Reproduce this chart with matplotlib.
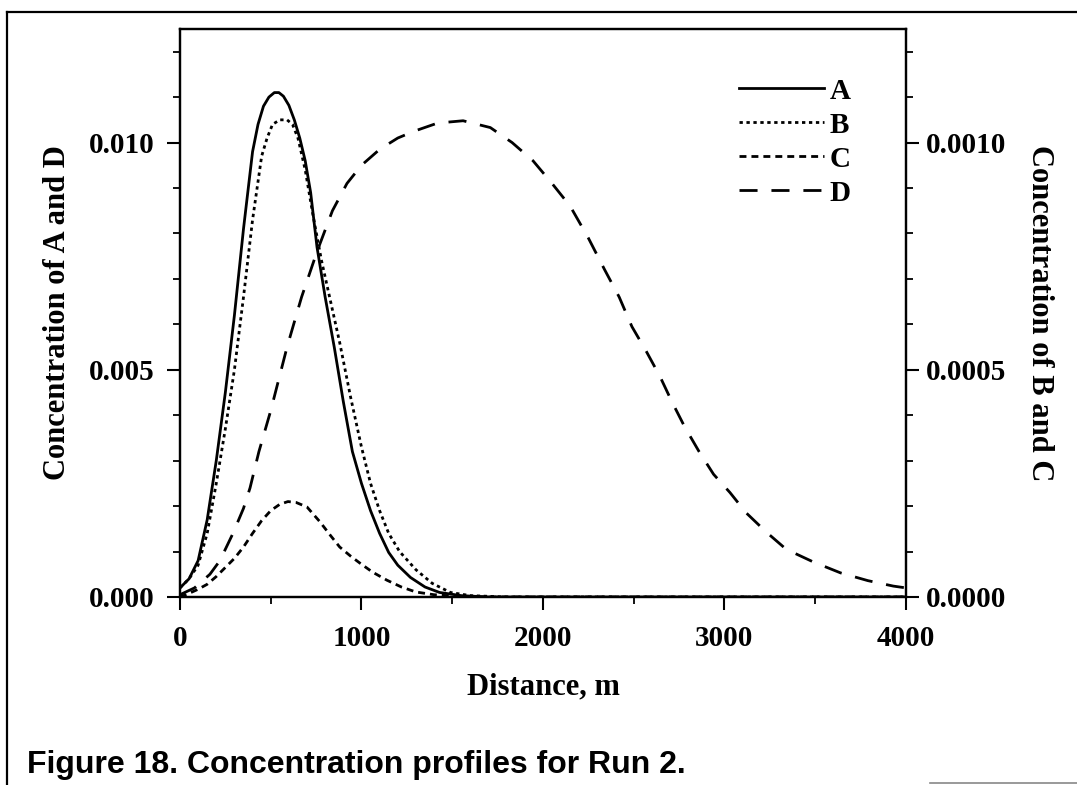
import matplotlib
matplotlib.use("Agg")
import matplotlib.pyplot as plt
from matplotlib.lines import Line2D
from matplotlib.ticker import MultipleLocator

plt.rcParams['font.family'] = ['Liberation Serif', 'DejaVu Serif']
plt.rcParams['font.weight'] = 'bold'

# distance (m) and concentrations
xA = [0, 50, 100, 150, 200, 250, 300, 350, 400, 430, 460, 490, 520, 545, 570, 600,
      630, 660, 690, 720, 755, 800, 850, 900, 950, 1000, 1050, 1100, 1150, 1200, 1270,
      1350, 1430, 1550, 1700, 4000]
cA = [0.0002, 0.0004, 0.0008, 0.0017, 0.0030, 0.0045, 0.0062, 0.0081, 0.0098, 0.0104,
      0.0108, 0.0110, 0.0111, 0.0111, 0.01102, 0.01082, 0.0105, 0.0101, 0.0096, 0.0089,
      0.0077, 0.0066, 0.0055, 0.0043, 0.0032, 0.0025, 0.0019, 0.0014, 0.00098, 0.0007,
      0.00043, 0.00022, 0.0001, 0.00003, 0.0, 0.0]

xB = [0, 50, 100, 150, 200, 250, 300, 350, 400, 450, 480, 510, 550, 590, 620, 650,
      690, 733, 780, 830, 880, 940, 1000, 1050, 1100, 1150, 1210, 1300, 1390, 1490,
      1600, 1800, 4000]
cB = [0.00002, 0.00004, 0.00007, 0.00014, 0.00025, 0.00037, 0.0005, 0.00066, 0.00083,
      0.00097, 0.00101, 0.00104, 0.00105, 0.00105, 0.00104, 0.00101, 0.00094, 0.00084,
      0.00074, 0.00065, 0.00056, 0.00044, 0.00033, 0.00025, 0.00019, 0.00014, 0.0001,
      0.00006, 0.00003, 0.00001, 0.000003, 0.0, 0.0]

xC = [0, 50, 100, 150, 200, 250, 300, 350, 400, 450, 500, 550, 595, 640, 700, 770,
      830, 880, 940, 990, 1060, 1140, 1220, 1300, 1400, 1550, 1700, 4000]
cC = [0.0, 0.000008, 0.000017, 0.000028, 0.000045, 0.000065, 0.000085, 0.00011, 0.00014,
      0.000168, 0.00019, 0.000204, 0.00021, 0.000208, 0.000198, 0.000166, 0.000135,
      0.00011, 0.00009, 0.000075, 0.000055, 0.000037, 0.000022, 0.000011, 0.000005,
      0.000001, 0.0, 0.0]

xD = [0, 80, 165, 220, 292, 350, 386, 435, 500, 590, 670, 755, 840, 920, 1000, 1100,
      1200, 1290, 1420, 1560, 1710, 1830, 1945, 2050, 2150, 2250, 2340, 2420, 2490,
      2570, 2645, 2710, 2780, 2860, 2940, 3030, 3120, 3230, 3340, 3490, 3640, 3790, 3930, 4000]
cD = [0.00005, 0.0002, 0.0005, 0.0008, 0.0014, 0.00195, 0.0024, 0.0032, 0.0041, 0.0055,
      0.0066, 0.0076, 0.0085, 0.0091, 0.0095, 0.00985, 0.0101, 0.01025, 0.01043, 0.01048,
      0.01033, 0.0100, 0.0096, 0.0091, 0.0086, 0.0079, 0.0072, 0.0066, 0.00595, 0.0054,
      0.00485, 0.0043, 0.00375, 0.0032, 0.0027, 0.0023, 0.00185, 0.00143, 0.00105,
      0.00077, 0.00053, 0.00036, 0.00024, 0.0002]

fig = plt.figure(figsize=(10.77, 7.85), dpi=100)
ax = fig.add_axes([0.1671, 0.2395, 0.8412 - 0.1671, 0.9631 - 0.2395])
ax2 = ax.twinx()

lw = 2.0
styles = {'A': '-', 'B': (0, (1.2, 1.3)), 'C': (0, (2.5, 1.8)), 'D': (0, (6.5, 5))}
ax.plot(xA, cA, color='black', lw=lw, ls=styles['A'])
ax.plot(xD, cD, color='black', lw=lw, ls=styles['D'])
ax2.plot(xB, cB, color='black', lw=lw, ls=styles['B'])
ax2.plot(xC, cC, color='black', lw=lw, ls=styles['C'])

ax.set_xlim(0, 4000)
ax.set_ylim(0, 0.0125)
ax2.set_ylim(0, 0.00125)

ax.xaxis.set_major_locator(MultipleLocator(1000))
ax.xaxis.set_minor_locator(MultipleLocator(500))
ax.yaxis.set_major_locator(MultipleLocator(0.005))
ax.yaxis.set_minor_locator(MultipleLocator(0.001))
ax2.yaxis.set_major_locator(MultipleLocator(0.0005))
ax2.yaxis.set_minor_locator(MultipleLocator(0.0001))
ax.yaxis.set_major_formatter(plt.FormatStrFormatter('%.3f'))
ax2.yaxis.set_major_formatter(plt.FormatStrFormatter('%.4f'))

for a in (ax, ax2):
    for s in a.spines.values():
        s.set_linewidth(1.6)
    a.tick_params(which='major', direction='out', length=9.5, width=1.5, labelsize=21, pad=9)
    a.tick_params(which='minor', direction='out', length=5, width=1.3)
ax.tick_params(top=False, right=False, which='both')
ax.tick_params(axis='x', pad=11)
ax2.tick_params(axis='y', pad=5)

ax.set_xlabel('Distance, m', fontsize=22, fontweight='bold', labelpad=14)
ax.set_ylabel('Concentration of A and D', fontsize=22, fontweight='bold', labelpad=12)
ax2.set_ylabel('Concentration of B and C', fontsize=22, fontweight='bold',
               rotation=270, labelpad=34)

handles = [Line2D([], [], color='black', lw=lw, ls=styles[k]) for k in 'ABCD']
ax.legend(handles, ['A', 'B', 'C', 'D'], loc='upper right', bbox_to_anchor=(0.94, 0.935),
          frameon=False, fontsize=21, handlelength=2.9, handletextpad=0.2,
          labelspacing=0.24, borderaxespad=0)

# page frame and caption
fig.add_artist(Line2D([7 / 1077, 1.0], [1 - 12 / 785, 1 - 12 / 785], color='black', lw=1.6))
fig.add_artist(Line2D([7 / 1077, 7 / 1077], [1 - 12 / 785, 0.0], color='black', lw=1.6))
fig.add_artist(Line2D([930 / 1077, 1.0], [2 / 785, 2 / 785], color='#888888', lw=1.2))
fig.text(27 / 1077, 1 - 773 / 785, 'Figure 18. Concentration profiles for Run 2.',
         family=['Liberation Sans', 'DejaVu Sans'], fontweight='bold', fontsize=23,
         ha='left', va='baseline')

fig.savefig('out.png', dpi=100)
